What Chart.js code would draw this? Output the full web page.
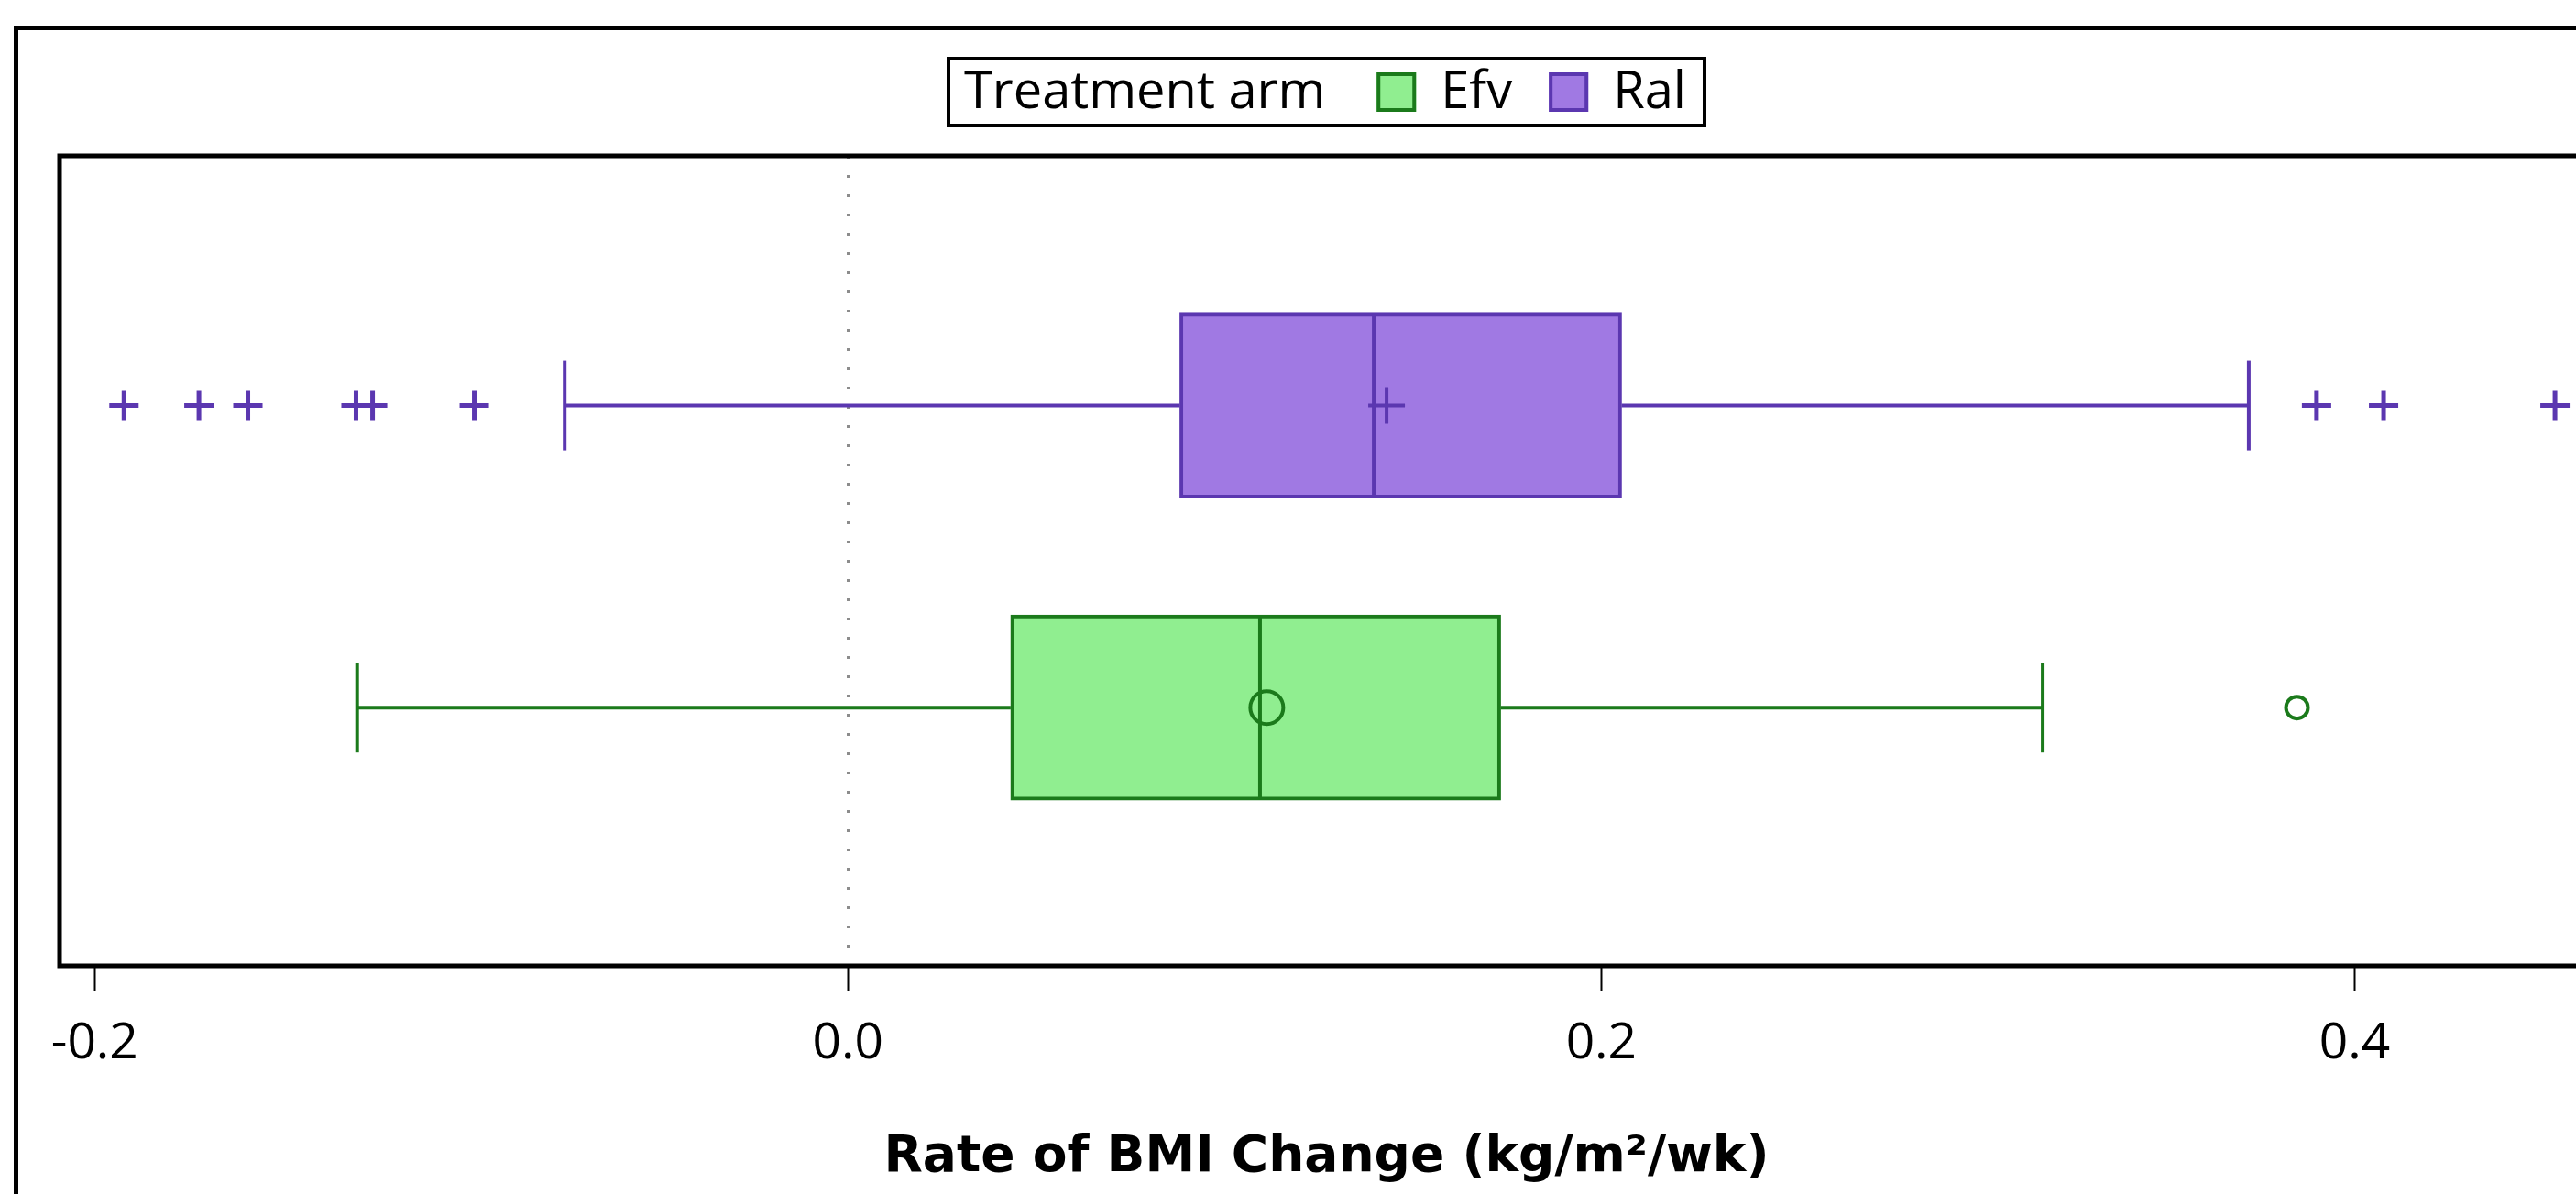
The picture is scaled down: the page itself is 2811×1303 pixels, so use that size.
<!DOCTYPE html>
<html>
<head>
<meta charset="utf-8">
<script src="https://cdn.jsdelivr.net/npm/chart.js@4.4.1/dist/chart.umd.min.js"></script>
<style>
html, body { margin: 0; padding: 0; background: #ffffff; overflow: hidden; }
#wrap { position: absolute; left: 0; top: 0; width: 2895px; height: 1370px; }
</style>
</head>
<body>
<div id="wrap"><canvas id="c"></canvas></div>
<script>
// ---------- data ----------
const categories = ['Efv', 'Ral'];
const categoryPos = [0, 1];
const q1 = [0.0432, 0.0881];
const median = [0.1094, 0.1396];
const q3 = [0.1733, 0.2054];
const mean = [0.1112, 0.1430];
const whiskerLow = [-0.1303, -0.0752];
const whiskerHigh = [0.3172, 0.3719];
const outliersEfv = [0.3847];
const outliersRal = [-0.1922, -0.1723, -0.1593, -0.1306, -0.1262, -0.0992, 0.3899, 0.4077, 0.4532];
const xTicks = [-0.2, 0.0, 0.2, 0.4];
const xMin = -0.2093, xMax = 0.4634;
const yMin = -0.855, yMax = 1.827;
const refLineValue = 0;
const legendTitle = 'Treatment arm';
const axisTitle = 'Rate of BMI Change (kg/m²/wk)';

// ---------- styles ----------
const fillColors = ['#90ee90', '#a079e3'];
const lineColors = ['#1b7a1b', '#5b37b0'];
const meanStyles = ['circle', 'cross'];
const tickFont = { family: 'Open Sans', size: 55 };
const legendFontSize = 56;

const datasets = [];

// boxes
datasets.push({
  type: 'bar',
  indexAxis: 'y',
  data: categories.map((c, i) => ({ x: [q1[i], q3[i]], y: categoryPos[i] })),
  backgroundColor: fillColors,
  borderColor: lineColors,
  borderWidth: 4,
  borderSkipped: false,
  barThickness: 202,
  order: 10
});

categories.forEach((c, i) => {
  const y = categoryPos[i];
  // whiskers
  datasets.push({ type: 'scatter', showLine: true, pointRadius: 0, borderColor: lineColors[i], borderWidth: 4,
    data: [{ x: whiskerLow[i], y }, { x: q1[i], y }] });
  datasets.push({ type: 'scatter', showLine: true, pointRadius: 0, borderColor: lineColors[i], borderWidth: 4,
    data: [{ x: q3[i], y }, { x: whiskerHigh[i], y }] });
  // caps
  datasets.push({ type: 'scatter', pointStyle: 'line', pointRotation: 90, pointRadius: 49, pointHoverRadius: 49,
    pointBorderColor: lineColors[i], pointBorderWidth: 4,
    data: [{ x: whiskerLow[i], y }, { x: whiskerHigh[i], y }] });
  // median
  datasets.push({ type: 'scatter', pointStyle: 'line', pointRotation: 90, pointRadius: 99, pointHoverRadius: 99,
    pointBorderColor: lineColors[i], pointBorderWidth: 4,
    data: [{ x: median[i], y }] });
  // mean
  datasets.push({ type: 'scatter', pointStyle: meanStyles[i], pointRadius: i === 0 ? 18 : 20, pointHoverRadius: i === 0 ? 18 : 20,
    pointBorderColor: lineColors[i], pointBackgroundColor: 'rgba(0,0,0,0)', pointBorderWidth: 4,
    data: [{ x: mean[i], y }] });
});

// outliers
datasets.push({ type: 'scatter', pointStyle: 'circle', pointRadius: 12, pointHoverRadius: 12,
  pointBorderColor: lineColors[0], pointBackgroundColor: 'rgba(0,0,0,0)', pointBorderWidth: 4,
  data: outliersEfv.map(v => ({ x: v, y: categoryPos[0] })) });
datasets.push({ type: 'scatter', pointStyle: 'cross', pointRadius: 16, pointHoverRadius: 16,
  pointBorderColor: lineColors[1], pointBorderWidth: 5,
  data: outliersRal.map(v => ({ x: v, y: categoryPos[1] })) });

// frames + legend
const framePlugin = {
  id: 'frames',
  afterDatasetsDraw(chart) {
    const { ctx, chartArea: a } = chart;
    ctx.save();
    ctx.strokeStyle = '#000';
    ctx.lineWidth = 5;
    ctx.strokeRect(a.left, a.top, a.right - a.left, a.bottom - a.top);
    ctx.restore();
  },
  afterDraw(chart) {
    const { ctx } = chart;
    ctx.save();
    ctx.strokeStyle = '#000';
    ctx.lineWidth = 5;
    ctx.strokeRect(17.5, 30.5, chart.width - 35, chart.height - 45);
    // legend
    ctx.font = legendFontSize + 'px "Open Sans"';
    ctx.textBaseline = 'middle';
    const pad = 17, gapTitle = 56, sw = 43, gapSw = 27, gapItem = 40, padR = 20;
    let w = pad + ctx.measureText(legendTitle).width + gapTitle;
    categories.forEach((c, i) => {
      w += sw + gapSw + ctx.measureText(c).width + (i < categories.length - 1 ? gapItem : 0);
    });
    w += padR;
    const top = 64, h = 73;
    const left = Math.round(chart.width / 2 - w / 2);
    const cy = top + h / 2;
    ctx.fillStyle = '#000';
    let x = left + pad;
    ctx.fillText(legendTitle, x, cy + 2);
    x += ctx.measureText(legendTitle).width + gapTitle;
    categories.forEach((c, i) => {
      ctx.fillStyle = fillColors[i];
      ctx.fillRect(x, cy - sw / 2, sw, sw);
      ctx.strokeStyle = lineColors[i];
      ctx.lineWidth = 4;
      ctx.strokeRect(x + 2, cy - sw / 2 + 2, sw - 4, sw - 4);
      x += sw + gapSw;
      ctx.fillStyle = '#000';
      ctx.fillText(c, x, cy + 2);
      x += ctx.measureText(c).width + gapItem;
    });
    ctx.strokeStyle = '#000';
    ctx.lineWidth = 4;
    ctx.strokeRect(left, top, w, h);
    ctx.restore();
  }
};

new Chart(document.getElementById('c'), {
  type: 'scatter',
  data: { datasets },
  plugins: [framePlugin],
  options: {
    responsive: true,
    maintainAspectRatio: false,
    animation: false,
    events: [],
    layout: { autoPadding: false, padding: { left: 65, right: 65, top: 170, bottom: 73 } },
    plugins: { legend: { display: false }, tooltip: { enabled: false } },
    scales: {
      x: {
        type: 'linear',
        min: xMin,
        max: xMax,
        offset: false,
        afterBuildTicks: sc => { sc.ticks = xTicks.map(v => ({ value: v })); },
        ticks: {
          font: tickFont,
          color: '#000',
          padding: 25,
          maxRotation: 0,
          autoSkip: false,
          callback: v => Number(v).toFixed(1)
        },
        grid: {
          offset: false,
          drawOnChartArea: true,
          color: c => (c.tick && c.tick.value === refLineValue) ? '#8c8c8c' : 'rgba(0,0,0,0)',
          lineWidth: 3,
          tickColor: '#000',
          tickWidth: 2,
          tickLength: 27,
          tickBorderDash: []
        },
        border: { display: false, dash: [3, 18] },
        title: {
          display: true,
          text: axisTitle,
          color: '#000',
          font: { family: 'DejaVu Sans', weight: 'bold', size: 55 },
          padding: { top: 34, bottom: 0 }
        }
      },
      y: { type: 'linear', display: false, offset: false, grid: { offset: false }, min: yMin, max: yMax }
    }
  }
});
</script>
</body>
</html>
